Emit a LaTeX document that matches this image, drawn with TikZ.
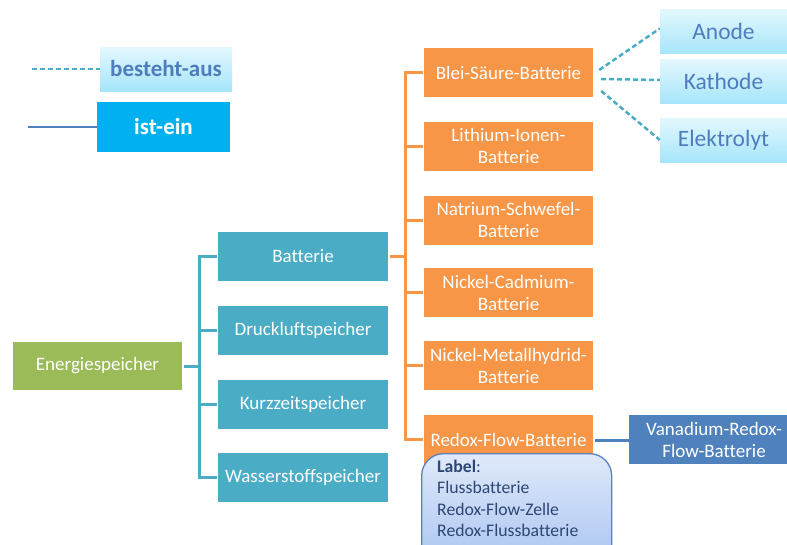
\documentclass[tikz,border=0pt]{standalone}
\usepackage{fontspec}
\setmainfont[Ligatures={NoCommon}]{Carlito}
\definecolor{cteal}{HTML}{4BACC6}
\definecolor{corange}{HTML}{F79646}
\definecolor{cgreen}{HTML}{9BBB59}
\definecolor{cblue}{HTML}{4F81BD}
\definecolor{ccyan}{HTML}{00B0F0}
\definecolor{cpartT}{HTML}{E3F8FE}
\definecolor{cpartB}{HTML}{A6E5FA}
\definecolor{cparttext}{HTML}{4F7CBC}
\definecolor{clabT}{HTML}{DFE9FA}
\definecolor{clabB}{HTML}{A6C2F1}
\definecolor{clabD}{HTML}{5B80C2}
\definecolor{clabtext}{HTML}{2E4674}
\tikzset{
  tbox/.style={fill=cteal, text=white, minimum width=170pt, minimum height=49pt, inner sep=0pt, font=\fontsize{19}{22}\selectfont, align=center},
  obox/.style={fill=corange, text=white, minimum width=169pt, minimum height=49pt, inner sep=0pt, font=\fontsize{19}{22}\selectfont, align=center},
  gbox/.style={fill=cgreen, text=white, minimum width=169pt, minimum height=48pt, inner sep=0pt, font=\fontsize{19}{22}\selectfont},
  vbox/.style={fill=cblue, text=white, minimum width=170pt, minimum height=49pt, inner sep=0pt, font=\fontsize{19}{22}\selectfont, align=center},
  pbox/.style={top color=cpartT, bottom color=cpartB, text=cparttext, minimum width=127pt, minimum height=44pt, inner sep=0pt, font=\fontsize{23.5}{26}\selectfont},
  legA/.style={top color=cpartT, bottom color=cpartB, text=cparttext, minimum width=132pt, minimum height=44pt, inner sep=0pt, font=\fontsize{23}{26}\selectfont\bfseries},
  legB/.style={fill=ccyan, text=white, minimum width=133pt, minimum height=50pt, inner sep=0pt, font=\fontsize{23}{26}\selectfont\bfseries},
  tline/.style={draw=cteal, line width=3pt},
  oline/.style={draw=corange, line width=3pt},
  bline/.style={draw=cblue, line width=2.5pt},
  dline/.style={draw=cteal, line width=2.5pt, dash pattern=on 5pt off 3pt},
  labbox/.style={rounded corners=22pt, top color=clabT, bottom color=clabB, draw=clabD, line width=1.3pt, minimum width=190pt, minimum height=120pt, inner sep=0pt},
  labtext/.style={text=clabtext, font=\fontsize{17.7}{21.3}\selectfont, align=left, inner sep=0pt},
}
\begin{document}
\begin{tikzpicture}[x=1pt,y=-1pt]
\useasboundingbox (0,0) rectangle (787,544);
% legend
\node[legA] (bes) at (166,69) {besteht-aus};
\node[legB] (ist) at (163.5,127) {ist-ein};
\coordinate (besS) at (32,69);
\coordinate (istS) at (28,127);
\draw[dline] (besS) -- (bes.west);
\draw[bline, line width=2pt] (istS) -- (ist.west);
% root
\node[gbox] (E) at (97.5,366) {Energiespeicher};
% level 1
\node[tbox] (B) at (303,256.5) {Batterie};
\node[tbox] (D) at (303,330) {Druckluftspeicher};
\node[tbox] (K) at (303,404) {Kurzzeitspeicher};
\node[tbox] (W) at (303,477) {Wasserstoffspeicher};
\foreach \n in {B,D,K,W}
  \draw[tline] ([xshift=2pt]E.east) -| ([xshift=-18pt]\n.west) |- ([xshift=-1pt]\n.west);
% batteries
\node[obox] (O1) at (508.5,72.5) {Blei-Säure-Batterie};
\node[obox] (O2) at (508.5,146) {Lithium-Ionen-\\Batterie};
\node[obox] (O3) at (508.5,220) {Natrium-Schwefel-\\Batterie};
\node[obox] (O4) at (508.5,292.5) {Nickel-Cadmium-\\Batterie};
\node[obox] (O5) at (508.5,365.5) {Nickel-Metallhydrid-\\Batterie};
\node[obox] (O6) at (508.5,439.5) {Redox-Flow-Batterie};
\foreach \n in {O1,O2,O3,O4,O5,O6}
  \draw[oline] ([xshift=2pt]B.east) -| ([xshift=-18pt]\n.west) |- ([xshift=-1pt]\n.west);
% parts
\node[pbox] (A) at (723.5,31.5) {Anode};
\node[pbox] (Ka) at (723.5,81.5) {Kathode};
\node[pbox] (El) at (723.5,140) {Elektrolyt};
\draw[dline] ([xshift=6pt,yshift=2.5pt]O1.east) -- ([yshift=3pt]A.west);
\draw[dline] ([xshift=8pt,yshift=-6.5pt]O1.east) -- ([yshift=1.5pt]Ka.west);
\draw[dline] ([xshift=8pt,yshift=-18.5pt]O1.east) -- (El.west);
% vanadium
\node[vbox] (V) at (714,439.5) {Vanadium-Redox-\\Flow-Batterie};
\draw[bline] ([xshift=2pt,yshift=-1pt]O6.east) -- ([yshift=-1pt]V.west);
% label
\node[labbox, anchor=north west] (L) at (421,453) {};
\node[labtext, anchor=north west] (Lt) at (437,460) {{\bfseries Label}:\\Flussbatterie\\Redox-Flow-Zelle\\Redox-Flussbatterie};
\end{tikzpicture}
\end{document}
